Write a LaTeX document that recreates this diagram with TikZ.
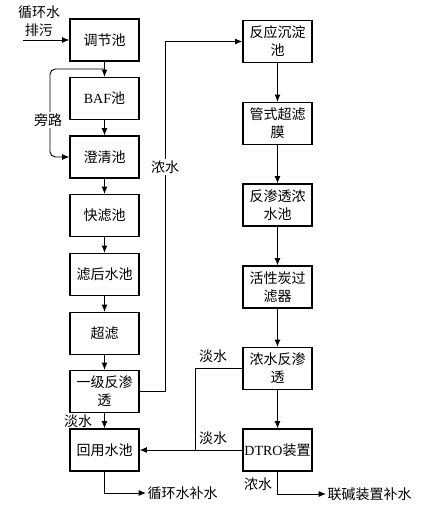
\documentclass[tikz,border=0pt]{standalone}
\usepackage{fontspec}
\setmainfont{Liberation Serif}
\newfontfamily\cjk{Noto Sans CJK SC}
\usetikzlibrary{arrows.meta}
\tikzset{
  unit/.style={draw, line width=0.9pt, minimum width=51.75pt, minimum height=31.5pt,
    inner xsep=1pt, align=center, font=\cjk\fontsize{10.5}{13.5}\selectfont},
  lbl/.style={inner sep=1pt, align=center, font=\cjk\fontsize{10.5}{13.5}\selectfont},
  flow/.style={line width=0.7pt, -{Latex[length=5.5pt,width=4.5pt]}},
  pipe/.style={line width=0.7pt}
}
\begin{document}
\begin{tikzpicture}[x=0.75pt, y=-0.75pt]
    \useasboundingbox (0,0) rectangle (424,511);
    % left column
    \node[unit] (tiao) at (104.5, 40.0) {调节池};
    \node[unit] (baf) at (104.5, 98.5) {{\rmfamily BAF}池};
    \node[unit] (cheng) at (104.5, 157.0) {澄清池};
    \node[unit] (kuai) at (104.5, 215.5) {快滤池};
    \node[unit] (lvhou) at (104.5, 274.5) {滤后水池};
    \node[unit] (chaolv) at (104.5, 333.5) {超滤};
    \node[unit] (ro1) at (104.5, 391.5) {一级反渗\\透};
    \node[unit] (huiyong) at (104.5, 450.0) {回用水池};
    % right column
    \node[unit] (fanying) at (277.5, 41.5) {反应沉淀\\池};
    \node[unit] (guanshi) at (277.5, 123.5) {管式超滤\\膜};
    \node[unit] (nongchi) at (277.5, 205.0) {反渗透浓\\水池};
    \node[unit] (huoxing) at (277.5, 287.0) {活性炭过\\滤器};
    \node[unit] (nongro) at (277.5, 368.5) {浓水反渗\\透};
    \node[unit] (dtro) at (277.5, 450.0) {{\rmfamily DTRO}装置};
    % outlets
    \node[lbl, anchor=west] (xunbu) at (146, 493) {循环水补水};
    \node[lbl, anchor=west] (lianjian) at (326, 494) {联碱装置补水};
    \node[lbl] (paiwu) at (39, 21) {循环水\\排污};
    \coordinate (inlet) at (23, 40);
    \coordinate (byp) at (104.5, 69);
    \coordinate (bypL) at (50, 69);
    \coordinate (nsx) at (165, 391.5);
    \coordinate (dsx) at (195, 450);
    \draw [flow] (inlet) to (tiao);
    \draw [flow] (tiao) to (baf);
    \draw [flow] (baf) to (cheng);
    \draw [flow] (cheng) to (kuai);
    \draw [flow] (kuai) to (lvhou);
    \draw [flow] (lvhou) to (chaolv);
    \draw [flow] (chaolv) to (ro1);
    \draw [flow] (ro1) to (huiyong);
    \draw [flow] (fanying) to (guanshi);
    \draw [flow] (guanshi) to (nongchi);
    \draw [flow] (nongchi) to (huoxing);
    \draw [flow] (huoxing) to (nongro);
    \draw [flow] (nongro) to (dtro);
    \draw [flow, rounded corners=4pt] (byp) -- (bypL) |- (cheng.west);
    \draw [flow] (ro1.east) -- (nsx) |- (fanying.west);
    \draw [pipe] (nongro.west) -| (dsx);
    \draw [flow] (dtro.west) to (huiyong.east);
    \draw [flow] (huiyong.south) |- (xunbu.west);
    \draw [flow] (dtro.south) |- (lianjian.west);
    % labels
    \node[lbl, fill=white] (pang) at (48, 120) {旁路};
    \node[lbl, fill=white] (nong1) at (165, 167) {浓水};
    \node[lbl] (dan1) at (78, 421) {淡水};
    \node[lbl] (dan2) at (213, 356) {淡水};
    \node[lbl] (dan3) at (213, 438) {淡水};
    \node[lbl] (nong2) at (258, 484) {浓水};
  \end{tikzpicture}
\end{document}
